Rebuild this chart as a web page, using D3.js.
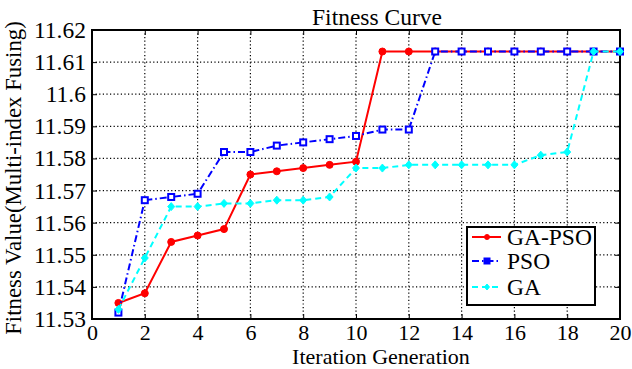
<!DOCTYPE html>
<html lang="en">
<head>
<meta charset="UTF-8">
<title>Fitness Curve</title>
<script src="https://d3js.org/d3.v7.min.js"></script>
<style>
	body { margin: 0; background: #fff; }
	text { font-family: "Liberation Serif", "Times New Roman", serif; fill: #000; }
	.grid line { stroke: #000; stroke-width: 1.2px; stroke-dasharray: 1.2,2.4; }
</style>
</head>
<body>
<svg id="chart" width="632" height="369"></svg>
<script>
const width = 632, height = 369;
const margin = {top: 30, right: 12, bottom: 50, left: 92};

// data
const iterations = d3.range(1, 21);
const gaPso = [11.535, 11.538, 11.554, 11.556, 11.558, 11.575, 11.576, 11.577, 11.578, 11.579,
	11.6133, 11.6133, 11.6133, 11.6133, 11.6133, 11.6133, 11.6133, 11.6133, 11.6133, 11.6133];
const pso = [11.532, 11.567, 11.568, 11.569, 11.582, 11.582, 11.584, 11.585, 11.586, 11.587,
	11.589, 11.589, 11.6133, 11.6133, 11.6133, 11.6133, 11.6133, 11.6133, 11.6133, 11.6133];
const ga = [11.533, 11.549, 11.565, 11.565, 11.566, 11.566, 11.567, 11.567, 11.568, 11.577,
	11.577, 11.578, 11.578, 11.578, 11.578, 11.578, 11.581, 11.582, 11.6133, 11.6133];
const xTicks = d3.range(0, 21, 2);
const yTicks = [11.53, 11.54, 11.55, 11.56, 11.57, 11.58, 11.59, 11.6, 11.61, 11.62];

const series = [
	{name: "GA-PSO", values: gaPso, color: "#ff0000", dash: null, marker: "circle"},
	{name: "PSO", values: pso, color: "#0000ff", dash: "7,3,1.5,3", marker: "square"},
	{name: "GA", values: ga, color: "#00ffff", dash: "6,4", marker: "diamond"}
];

const fontSize = 23.5;
const svg = d3.select("#chart");
const x = d3.scaleLinear().domain([0, 20]).range([margin.left, width - margin.right]);
const y = d3.scaleLinear().domain([11.53, 11.62]).range([height - margin.bottom, margin.top]);
const x0 = x.range()[0], x1 = x.range()[1], y0 = y.range()[0], y1 = y.range()[1];

// grid
const grid = svg.append("g").attr("class", "grid");
grid.selectAll(".gx").data(xTicks.slice(1, -1)).enter().append("line")
	.attr("x1", d => x(d)).attr("x2", d => x(d)).attr("y1", y0).attr("y2", y1);
grid.selectAll(".gy").data(yTicks.slice(1, -1)).enter().append("line")
	.attr("x1", x0).attr("x2", x1).attr("y1", d => y(d)).attr("y2", d => y(d));

// axes (ticks inward)
const fmt = d => String(+d.toFixed(2));
svg.append("g").attr("transform", `translate(0,${y0})`)
	.call(d3.axisBottom(x).tickValues(xTicks).tickSize(-5).tickPadding(5).tickFormat(d3.format("d")))
	.call(g => g.select(".domain").remove())
	.call(g => g.selectAll("text").attr("font-size", 22).attr("font-family", "Liberation Serif"));
svg.append("g").attr("transform", `translate(${x0},0)`)
	.call(d3.axisLeft(y).tickValues(yTicks).tickSize(-5).tickPadding(6).tickFormat(fmt))
	.call(g => g.select(".domain").remove())
	.call(g => g.selectAll("text").attr("font-size", fontSize).attr("font-family", "Liberation Serif"));
svg.append("g").attr("transform", `translate(0,${y1})`)
	.call(d3.axisTop(x).tickValues(xTicks).tickSize(-5).tickFormat(""))
	.call(g => g.select(".domain").remove());
svg.append("g").attr("transform", `translate(${x1},0)`)
	.call(d3.axisRight(y).tickValues(yTicks).tickSize(-5).tickFormat(""))
	.call(g => g.select(".domain").remove());

svg.append("rect")
	.attr("x", x0).attr("y", y1).attr("width", x1 - x0).attr("height", y0 - y1)
	.attr("fill", "none").attr("stroke", "#000").attr("stroke-width", 2);

// lines and markers
const line = d3.line().x((d, i) => x(iterations[i])).y(d => y(d));

function drawMarker(g, type, color, cx, cy, size, fill) {
	if (type === "circle") {
		g.append("circle").attr("cx", cx).attr("cy", cy).attr("r", size)
			.attr("fill", color).attr("stroke", color).attr("stroke-width", 1);
	} else if (type === "square") {
		g.append("rect").attr("x", cx - size).attr("y", cy - size)
			.attr("width", size * 2).attr("height", size * 2)
			.attr("fill", fill || "#fff").attr("stroke", color).attr("stroke-width", 2);
	} else {
		g.append("path")
			.attr("d", `M${cx},${cy - size - 0.5}L${cx + size},${cy}L${cx},${cy + size + 0.5}L${cx - size},${cy}Z`)
			.attr("fill", color).attr("stroke", color).attr("stroke-width", 1);
	}
}

series.forEach(s => {
	const g = svg.append("g");
	g.append("path").datum(s.values)
		.attr("d", line)
		.attr("fill", "none")
		.attr("stroke", s.color)
		.attr("stroke-width", 2)
		.attr("stroke-dasharray", s.dash);
	s.values.forEach((v, i) => drawMarker(g, s.marker, s.color, x(iterations[i]), y(v), s.marker === "square" ? 3 : 3.5));
});

// legend
const legend = svg.append("g");
legend.append("rect")
	.attr("x", 467).attr("y", 227).attr("width", 128).attr("height", 78)
	.attr("fill", "#fff").attr("stroke", "#000").attr("stroke-width", 2);
const legendY = [237, 261, 287];
series.forEach((s, i) => {
	legend.append("line")
		.attr("x1", 472).attr("x2", 501).attr("y1", legendY[i]).attr("y2", legendY[i])
		.attr("stroke", s.color).attr("stroke-width", 2).attr("stroke-dasharray", s.dash);
	drawMarker(legend, s.marker, s.color, 487, legendY[i], 2.5, s.color);
	legend.append("text")
		.attr("x", 507).attr("y", legendY[i]).attr("dy", "0.35em")
		.attr("font-size", fontSize).text(s.name);
});

// titles
svg.append("text").attr("x", 377).attr("y", 25)
	.attr("text-anchor", "middle").attr("font-size", fontSize).text("Fitness Curve");
svg.append("text").attr("x", 381).attr("y", 364)
	.attr("text-anchor", "middle").attr("font-size", 22).text("Iteration Generation");
svg.append("text")
	.attr("transform", `translate(21,178) rotate(-90)`)
	.attr("text-anchor", "middle").attr("font-size", 22.8)
	.text("Fitness Value(Multi-index Fusing)");
</script>
</body>
</html>
